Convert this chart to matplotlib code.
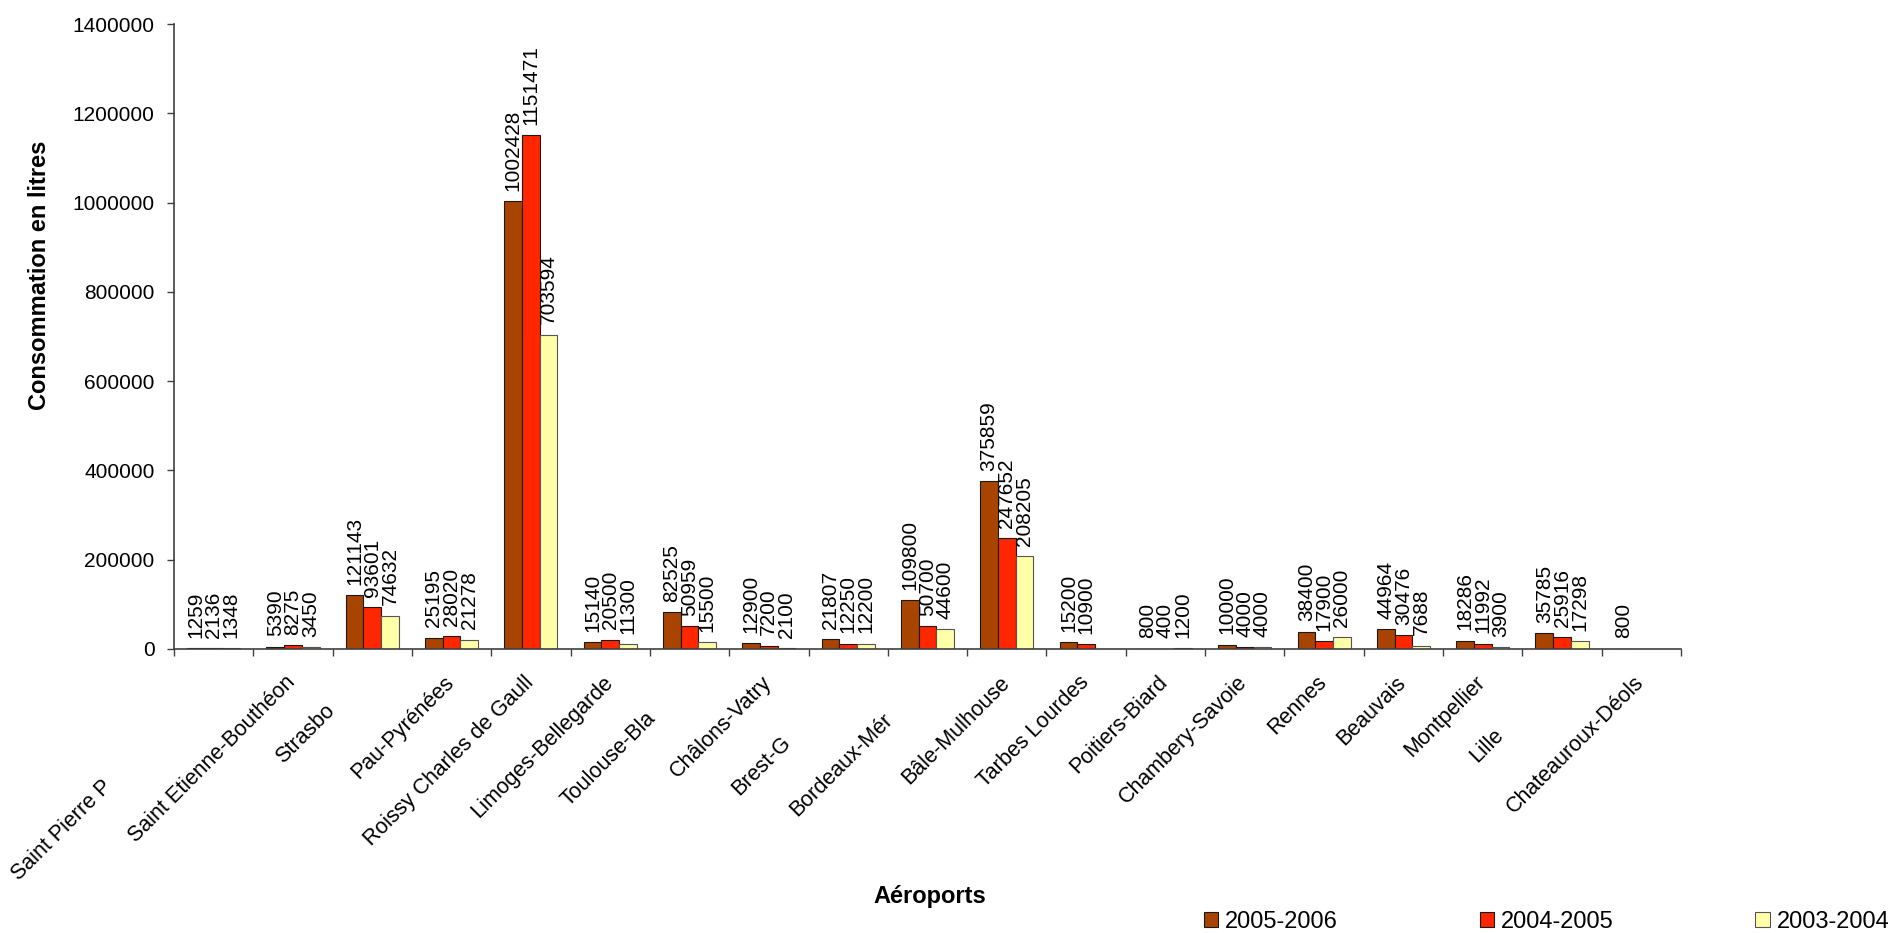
import numpy as np
import matplotlib
matplotlib.use("Agg")
import matplotlib.pyplot as plt
import matplotlib.transforms as mtransforms
from matplotlib.patches import Patch

plt.rcParams['font.family'] = ['Liberation Sans', 'DejaVu Sans']

# data
airports = ["Saint Pierre P", "Saint Etienne-Bouthéon", "Strasbo", "Pau-Pyrénées",
            "Roissy Charles de Gaull", "Limoges-Bellegarde", "Toulouse-Bla",
            "Châlons-Vatry", "Brest-G", "Bordeaux-Mér", "Bâle-Mulhouse",
            "Tarbes Lourdes", "Poitiers-Biard", "Chambery-Savoie", "Rennes",
            "Beauvais", "Montpellier", "Lille", "Chateauroux-Déols"]
series = ["2005-2006", "2004-2005", "2003-2004"]
v2005_2006 = [1259, 5390, 121143, 25195, 1002428, 15140, 82525, 12900, 21807, 109800,
              375859, 15200, 800, 10000, 38400, 44964, 18286, 35785, 800]
v2004_2005 = [2136, 8275, 93601, 28020, 1151471, 20500, 50959, 7200, 12250, 50700,
              247652, 10900, 400, 4000, 17900, 30476, 11992, 25916, np.nan]
v2003_2004 = [1348, 3450, 74632, 21278, 703594, 11300, 15500, 2100, 12200, 44600,
              208205, np.nan, 1200, 4000, 26000, 7688, 3900, 17298, np.nan]
yticks = [0, 200000, 400000, 600000, 800000, 1000000, 1200000, 1400000]

colors = ["#A84300", "#FF2600", "#FFFFA8"]
edges = ["#1a1a1a", "#1a1a1a", "#555555"]
# clipped labels: slide along their 45 deg line (px) and sideways (px)
label_shift = [148, 0, 40, 0, 0, 0, 51, 0, 85, 53, 0, 0, 0, 0, 0, 0, 0, 75, 0]
label_dx = [0, 0, -12, 0, 0, 0, 0, 0, 0, 0, 0, 0, 0, 0, 0, 0, 0, -8, 0]

fig = plt.figure(figsize=(18.99, 9.33), dpi=100)
ax = fig.add_axes([174/1899, 1-649/933, 1507/1899, 625/933])

x = np.arange(len(airports))
w = 0.223
for k, vals in enumerate([v2005_2006, v2004_2005, v2003_2004]):
    pos = x + (k - 1) * w
    ax.bar(pos, vals, width=w, color=colors[k], edgecolor=edges[k], linewidth=0.8)
    for p, v in zip(pos, vals):
        if np.isnan(v):
            continue
        off = mtransforms.offset_copy(ax.transData, fig=fig, x=0, y=7.5, units='points')
        ax.text(p, v, str(int(v)), rotation=90, ha='center', va='bottom',
                fontsize=15, transform=off)

ax.set_xlim(-0.5, len(airports) - 0.5)
ax.set_ylim(0, 1400000)
ax.set_yticks(yticks)
ax.set_yticklabels([str(t) for t in yticks], fontsize=15)
ax.set_xticks(np.arange(len(airports) + 1) - 0.5)
ax.set_xticklabels([])
ax.tick_params(axis='y', length=5, width=1, color='#404040', pad=9)
ax.tick_params(axis='x', length=5, width=1, color='#404040')
for s in ['top', 'right']:
    ax.spines[s].set_visible(False)
for s in ['left', 'bottom']:
    ax.spines[s].set_color('#404040')
    ax.spines[s].set_linewidth(1.2)

# category labels, 45 deg
blend = mtransforms.blended_transform_factory(ax.transData, ax.transAxes)
for i, name in enumerate(airports):
    d = label_shift[i] * 0.72 * 0.7071
    sx = label_dx[i] * 0.72
    tr = blend + mtransforms.ScaledTranslation((-5.8 - d + sx) / 72, (-16.5 - d) / 72,
                                               fig.dpi_scale_trans)
    ax.text(i, 0, name, rotation=45, rotation_mode='anchor', ha='right', va='top',
            fontsize=15.5, transform=tr)

fig.text(40/1899, 1-275/933, "Consommation en litres", rotation=90, ha='center',
         va='center', fontsize=17, fontweight='bold')
fig.text(930/1899, 1-896/933, "Aéroports", ha='center', va='center',
         fontsize=17, fontweight='bold')

handles = [Patch(facecolor=colors[k], edgecolor=edges[k], linewidth=0.8) for k in range(3)]
fig.legend(handles, series, loc='center left', bbox_to_anchor=(1204/1899, 1-922/933),
           ncol=3, frameon=False, fontsize=17, handlelength=0.6, handleheight=0.6,
           handletextpad=0.3, columnspacing=6.0, borderpad=0, borderaxespad=0)

fig.savefig("out.png", dpi=100)
